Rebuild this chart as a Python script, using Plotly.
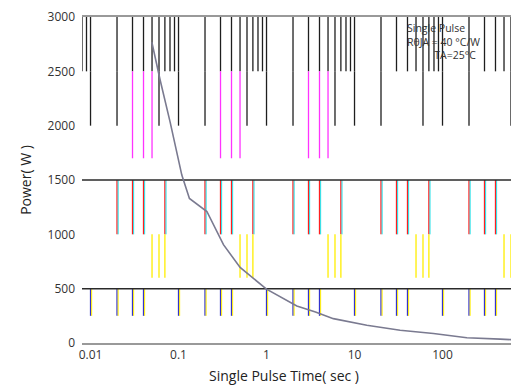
import math
import plotly.graph_objects as go

# ---- data ----
time_s = [0.0497, 0.0618, 0.0804, 0.109, 0.133, 0.21, 0.324, 0.501, 1.0, 2.21,
          3.6, 5.75, 13.8, 33, 78.9, 189, 452, 745]
power_w = [2770, 2420, 2030, 1545, 1330, 1210, 905, 695, 495, 340,
           285, 224, 164, 118, 88, 48, 36, 27]

x_tickvals = [0.01, 0.1, 1, 10, 100]
x_ticktext = ["0.01", "0.1", "1", "10", "100"]
y_tickvals = [0, 500, 1000, 1500, 2000, 2500, 3000]
y_ticktext = ["0", "500", "1000", "1500", "2000", "2500", "3000"]
h_lines = [500, 1500]
legend_lines = ["Single Pulse", "R\u03b8JA = 40 \u00b0C/W", "TA=25\u00b0C"]

x_min, x_max = 0.008, 740
decades = [0.001, 0.01, 0.1, 1, 10, 100]

# band decoration: (y from, y to, colour, mantissas, decades used)
bands = [
    (2500, 3000, "#1e1e1e", [1, 2, 3, 4, 5, 6, 7, 8, 9], decades),
    (2000, 2500, "#1e1e1e", [1, 2, 6], decades),
    (1700, 2500, "#ff33ff", [3, 4, 5], [0.01, 0.1, 1]),
    (1000, 1500, "#ff2020", [2, 3, 4, 7], decades),
    (600, 1000, "#ffee00", [5, 6, 7], decades),
    (250, 500, "#3333cc", [1, 2, 3, 4], decades),
]
partner = {"#ff2020": "#22e0e8", "#3333cc": "#ffee00"}

fig = go.Figure()

for y0, y1, col, mants, decs in bands:
    xs, ys, xs2, ys2 = [], [], [], []
    for d in decs:
        for m in mants:
            v = m * d
            if x_min <= v <= x_max:
                xs += [v, v, None]
                ys += [y0, y1, None]
                xs2 += [v * 1.03, v * 1.03, None]
                ys2 += [y0, y1, None]
    fig.add_trace(go.Scatter(x=xs, y=ys, mode="lines", line=dict(color=col, width=1.3),
                             hoverinfo="skip", showlegend=False))
    if col in partner:
        fig.add_trace(go.Scatter(x=xs2, y=ys2, mode="lines",
                                 line=dict(color=partner[col], width=1),
                                 hoverinfo="skip", showlegend=False))

# horizontal lines
for h in h_lines:
    fig.add_trace(go.Scatter(x=[x_min, x_max], y=[h, h], mode="lines",
                             line=dict(color="#2a2a2a", width=1.5),
                             hoverinfo="skip", showlegend=False))

# curve
fig.add_trace(go.Scatter(x=time_s, y=power_w, mode="lines",
                         line=dict(color="#7a7a90", width=1.6),
                         showlegend=False))

font_ticks = dict(family="Open Sans", size=12, color="#333333")
fig.update_xaxes(type="log", range=[math.log10(x_min), math.log10(x_max)],
                 tickvals=x_tickvals, ticktext=x_ticktext, showgrid=False,
                 showline=True, mirror=True, linecolor="#999999", linewidth=2,
                 zeroline=False, tickfont=font_ticks, ticks="",
                 ticklabeloverflow="allow")
fig.update_yaxes(range=[0, 3000], tickvals=y_tickvals, ticktext=y_ticktext,
                 showgrid=False, zeroline=False, showline=False, ticks="",
                 tickfont=font_ticks, ticklabelstandoff=6, ticklabeloverflow="allow",
                 title=dict(text="Power( W )", font=dict(family="Open Sans", size=14, color="#222222"),
                            standoff=12))

fig.add_annotation(text="Single Pulse Time( sec )", xref="paper", yref="paper",
                   x=0.462, y=0, xanchor="center", yanchor="top", yshift=-21,
                   showarrow=False, font=dict(family="Open Sans", size=14, color="#222222"))
legend_text = (legend_lines[0] + "<br>" + legend_lines[1] + "<br>"
               + "&nbsp;" * 10 + legend_lines[2])
fig.add_annotation(text=legend_text, xref="paper", yref="paper",
                   x=0.739, y=0.995, xanchor="left", yanchor="top", align="left",
                   showarrow=False,
                   font=dict(family="Open Sans", size=10.5, color="#333333"))

fig.update_layout(width=511, height=377, margin=dict(l=74, r=0, t=5, b=42),
                  plot_bgcolor="white", paper_bgcolor="white")
fig.write_html("out.html")
